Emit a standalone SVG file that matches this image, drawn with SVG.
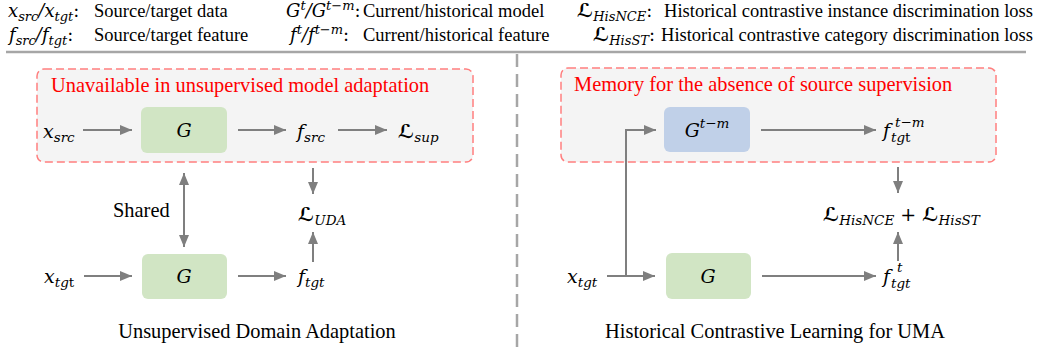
<svg xmlns="http://www.w3.org/2000/svg" width="1039" height="349" viewBox="0 0 1039 349">
<defs>
<marker id="ah" markerWidth="12" markerHeight="10" refX="12" refY="5" orient="auto-start-reverse" markerUnits="userSpaceOnUse"><path d="M0,0 L12,5 L0,10 z" fill="#7f7f7f"/></marker>
</defs>
<style>
.t{font-family:"Liberation Serif","Times New Roman",serif;fill:#000}
.leg{font-size:18.5px}
.m{font-family:"DejaVu Serif","Liberation Serif",serif;font-style:italic;fill:#000}
.mm{font-size:19px}
.ml{font-size:18px}
.s{font-size:13.5px}
.sl{font-size:13px}
.up{font-style:normal}
.L{font-family:"DejaVu Serif","DejaVu Sans",serif;font-weight:bold;font-style:normal}
.conn line,.conn path{stroke:#7f7f7f;stroke-width:2;fill:none;marker-end:url(#ah)}
.region{fill:#f4f4f4;stroke:#ff7f7f;stroke-width:1.5;stroke-dasharray:8 4}
.red{fill:#ff0000;font-size:20.4px}
.bg{fill:#d1e5c4}
.bb{fill:#c0d0e8}
.title{font-size:20.4px}
.sep{stroke:#a6a6a6;stroke-width:2.5;fill:none}
</style>

<g id="legend">
<text class="m ml" y="17"><tspan x="8">x</tspan><tspan class="sl" dy="4">src</tspan><tspan dy="-4">/x</tspan><tspan class="sl" dy="4">tgt</tspan><tspan class="up" dy="-4">:</tspan></text>
<text class="t leg" x="94" y="17">Source/target data</text>
<text class="m ml" y="41"><tspan x="9">f</tspan><tspan class="sl" dy="4">src</tspan><tspan dy="-4">/f</tspan><tspan class="sl" dy="4">tgt</tspan><tspan class="up" dy="-4">:</tspan></text>
<text class="t leg" x="94" y="41">Source/target feature</text>

<text class="m ml" y="17"><tspan x="286">G</tspan><tspan class="sl" dy="-7">t</tspan><tspan dy="7">/G</tspan><tspan class="sl" dy="-7">t−m</tspan><tspan class="up" dy="7">:</tspan></text>
<text class="t leg" x="363" y="17">Current/historical model</text>
<text class="m ml" y="41"><tspan x="290">f</tspan><tspan class="sl" dy="-7">t</tspan><tspan dy="7">/f</tspan><tspan class="sl" dy="-7">t−m</tspan><tspan class="up" dy="7">:</tspan></text>
<text class="t leg" x="363" y="41">Current/historical feature</text>

<text class="m ml" y="17"><tspan class="L" font-size="19" x="577">ℒ</tspan><tspan class="sl" dy="4">HisNCE</tspan><tspan class="up" dy="-4">:</tspan></text>
<text class="t leg" x="1033" y="17" text-anchor="end">Historical contrastive instance discrimination loss</text>
<text class="m ml" y="41"><tspan class="L" font-size="19" x="593">ℒ</tspan><tspan class="sl" dy="4">HisST</tspan><tspan class="up" dy="-4">:</tspan></text>
<text class="t leg" x="1033" y="41" text-anchor="end">Historical contrastive category discrimination loss</text>
</g>

<g id="separators">
<line class="sep" x1="6" y1="52" x2="1026" y2="52"/>
<line class="sep" x1="517" y1="54" x2="517" y2="349" stroke-width="2" stroke-dasharray="13 7"/>
</g>

<g id="uda-region">
<rect class="region" x="37" y="69" width="436" height="93" rx="7"/>
<text class="t red" x="51" y="92">Unavailable in unsupervised model adaptation</text>
</g>
<g id="uma-region">
<rect class="region" x="561" y="68" width="435" height="94" rx="7"/>
<text class="t red" x="574" y="91">Memory for the absence of source supervision</text>
</g>

<g id="uda-xsrc"><text class="m mm" x="43" y="138">x<tspan class="s" dy="4">src</tspan></text></g>
<g id="uda-G-top"><rect class="bg" x="141" y="107" width="86" height="46" rx="6"/><text class="m mm" x="184" y="137" text-anchor="middle">G</text></g>
<g id="uda-fsrc"><text class="m mm" x="297" y="138">f<tspan class="s" dy="4">src</tspan></text></g>
<g id="uda-Lsup"><text class="m mm" x="398" y="138"><tspan class="L">ℒ</tspan><tspan class="s" dy="4">sup</tspan></text></g>
<g id="uda-shared"><text class="t title" x="113" y="217">Shared</text></g>
<g id="uda-Luda"><text class="m mm" x="298" y="221"><tspan class="L">ℒ</tspan><tspan class="s" dy="4">UDA</tspan></text></g>
<g id="uda-xtgt"><text class="m mm" x="44" y="283">x<tspan class="s" dy="4">tg<tspan class="up">t</tspan></tspan></text></g>
<g id="uda-G-bottom"><rect class="bg" x="142" y="254" width="85" height="45" rx="6"/><text class="m mm" x="184" y="283" text-anchor="middle">G</text></g>
<g id="uda-ftgt"><text class="m mm" x="298" y="283">f<tspan class="s" dy="4">tgt</tspan></text></g>
<g id="uda-title"><text class="t title" x="257" y="338" text-anchor="middle">Unsupervised Domain Adaptation</text></g>

<g id="uma-Ghist"><rect class="bb" x="664" y="107" width="86" height="45" rx="6"/><text class="m mm" x="707" y="137" text-anchor="middle">G<tspan class="s" dy="-9">t−m</tspan></text></g>
<g id="uma-fhist"><text class="m mm" x="883" y="137">f</text><text class="m s" x="891" y="142">tg<tspan class="up">t</tspan></text><text class="m s" x="895" y="127">t−m</text></g>
<g id="uma-loss"><text class="m mm" x="823" y="221"><tspan class="L">ℒ</tspan><tspan class="s" dy="4">HisNCE</tspan><tspan class="up" dy="-4"> + </tspan><tspan class="L">ℒ</tspan><tspan class="s" dy="4">HisST</tspan></text></g>
<g id="uma-xtgt"><text class="m mm" x="567" y="283">x<tspan class="s" dy="4">tgt</tspan></text></g>
<g id="uma-G"><rect class="bg" x="666" y="253" width="85" height="46" rx="6"/><text class="m mm" x="708" y="283" text-anchor="middle">G</text></g>
<g id="uma-fcur"><text class="m mm" x="883" y="283">f</text><text class="m s" x="891" y="288">tgt</text><text class="m s" x="897" y="272">t</text></g>
<g id="uma-title"><text class="t title" x="775" y="338" text-anchor="middle">Historical Contrastive Learning for UMA</text></g>

<g id="connectors" class="conn">
<line x1="83" y1="130" x2="132" y2="130"/>
<line x1="238" y1="130" x2="286" y2="130"/>
<line x1="338" y1="130" x2="387" y2="130"/>
<line x1="313" y1="168" x2="313" y2="194"/>
<line x1="184" y1="173" x2="184" y2="247" marker-start="url(#ah)"/>
<line x1="84" y1="276" x2="132" y2="276"/>
<line x1="238" y1="276" x2="286" y2="276"/>
<line x1="313" y1="262" x2="313" y2="232"/>
<line x1="607" y1="276" x2="655" y2="276"/>
<path d="M626,276 V130 H656"/>
<line x1="761" y1="130" x2="876" y2="130"/>
<line x1="762" y1="276" x2="876" y2="276"/>
<line x1="898" y1="167" x2="898" y2="193"/>
<line x1="898" y1="261" x2="898" y2="232"/>
</g>
</svg>
